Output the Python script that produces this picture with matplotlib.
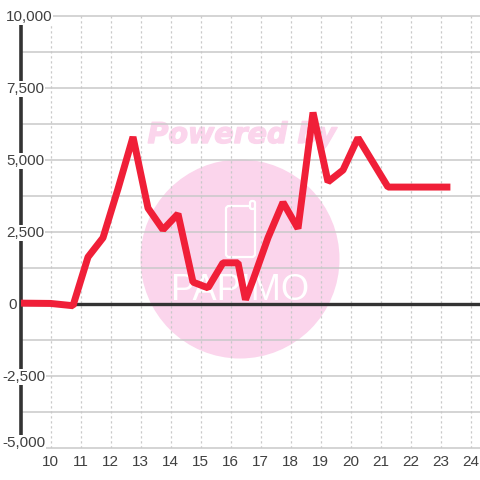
import matplotlib
matplotlib.use("Agg")
import matplotlib.pyplot as plt
import matplotlib.patheffects as pe
from matplotlib.patches import Circle, FancyBboxPatch

plt.rcParams["font.family"] = ["Liberation Sans", "DejaVu Sans"]

# data
hours = [9, 10, 10.75, 11.25, 11.75, 12.25, 12.75, 13.25, 13.75, 14.25, 14.75, 15.25,
         15.75, 16.25, 16.5, 16.75, 17.25, 17.75, 18.25, 18.75, 19.25, 19.75, 20.25,
         21.25, 23.33]
values = [30, 20, -60, 1630, 2300, 4000, 5800, 3330, 2580, 3130, 760, 560,
          1430, 1430, 150, 830, 2300, 3530, 2620, 6650, 4240, 4650, 5770,
          4060, 4060]
x_ticks = list(range(10, 25))
y_major = [10000, 7500, 5000, 2500, 0, -2500, -5000]
y_major_labels = ["10,000", "7,500", "5,000", "2,500", "0", "-2,500", "-5,000"]
y_minor = [8750, 6250, 3750, 1250, -1250, -3750]

GRID = "#c9c9c9"
DARK = "#333333"
TEXT = "#404040"
RED = "#f01f38"
PINK = "#fbd5ec"

fig = plt.figure(figsize=(4.8, 4.8), dpi=100, facecolor="white")

# watermark, in pixel coordinates behind the chart
bg = fig.add_axes([0, 0, 1, 1])
bg.set_xlim(0, 480)
bg.set_ylim(480, 0)
bg.axis("off")
bg.add_patch(Circle((240, 259), 99.5, color=PINK, lw=0))
bg.text(242, 135, "Powered by", color=PINK, fontsize=20.5, family="DejaVu Sans",
        weight="bold", style="italic", ha="center", va="center",
        path_effects=[pe.withStroke(linewidth=1, foreground=PINK)])
bg.add_patch(FancyBboxPatch((226, 206), 29, 51, boxstyle="round,pad=0,rounding_size=3",
                            fc="none", ec="white", lw=1.6))
bg.add_patch(FancyBboxPatch((250, 201), 5, 8, boxstyle="round,pad=0,rounding_size=2",
                            fc=PINK, ec="white", lw=1.6))
bg.text(240, 290, "PAPIMO", color="white", fontsize=26, ha="center", va="center")

# chart
ax = fig.add_axes([20.5 / 480, 32 / 480, 459.5 / 480, 432 / 480])
ax.patch.set_alpha(0)
ax.set_xlim(9, 9 + 459.5 / 30)
ax.set_ylim(-5000, 10000)
for s in ["top", "right", "bottom"]:
    ax.spines[s].set_visible(False)
ax.spines["left"].set_linewidth(2.6)
ax.spines["left"].set_color(DARK)
ax.spines["left"].set_zorder(4)
ax.set_xticks(x_ticks)
ax.set_yticks([])
ax.tick_params(axis="x", length=0, labelsize=11, labelcolor=TEXT, pad=5)

for v in y_major + y_minor:
    ax.axhline(v, color=GRID, lw=1.1, zorder=1, clip_on=False)
for h in x_ticks:
    ax.axvline(h, color=GRID, lw=0.9, dashes=(1.8, 2.2), zorder=1)
ax.axhline(0, color=DARK, lw=2.4, zorder=4)

ax.plot(hours, values, color=RED, lw=5, solid_joinstyle="bevel",
        solid_capstyle="butt", zorder=5)

# y labels sit on a white box that cuts the axis and the gridlines
for v, lab in zip(y_major, y_major_labels):
    y = max(v, -4780)
    px = 2 if lab.startswith("-") else (8 if lab == "0" else 6)
    ax.annotate(lab, xy=(px, y), xycoords=("figure pixels", "data"), xytext=(0, -1),
                textcoords="offset pixels", fontsize=11, color=TEXT, ha="left",
                va="center", bbox=dict(fc="white", ec="none", pad=0.5),
                zorder=4.5, annotation_clip=False)

fig.savefig("out.png", dpi=100)
